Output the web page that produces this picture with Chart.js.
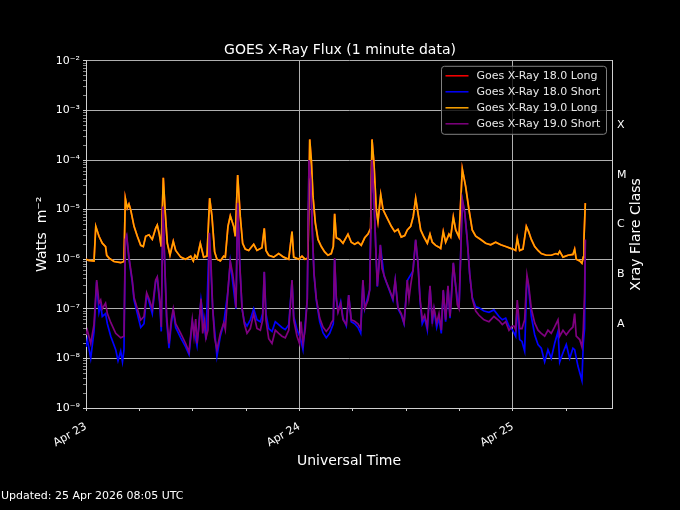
<!DOCTYPE html>
<html>
<head>
<meta charset="utf-8">
<title>GOES X-Ray Flux</title>
<script src="https://cdn.jsdelivr.net/npm/chart.js@4.4.1/dist/chart.umd.min.js"></script>
<style>
  html, body { margin: 0; padding: 0; background: #000; }
  #wrap { width: 680px; height: 510px; }
</style>
</head>
<body>
<div id="wrap"><canvas id="xrayChart" width="680" height="510"></canvas></div>
<script>
// time axis: hours since 23 Apr 2026 00:00 UTC
const long19Hours = [0, 0.3, 0.9, 1.1, 1.46, 1.83, 2.2, 2.33, 2.6, 3.15, 3.9, 4.27, 4.42, 4.64, 4.83, 5.02, 5.4, 5.77, 6.15, 6.44,
  6.71, 7.08, 7.45, 7.83, 8.01, 8.24, 8.46, 8.69, 8.91, 9.14, 9.44, 9.81, 10.08, 10.65, 11.2, 11.77, 12.06, 12.25, 12.48, 12.85,
  13.23, 13.6, 13.9, 14.16, 14.46, 14.72, 15.1, 15.48, 15.66, 15.96, 16.22, 16.6, 16.78, 17.05, 17.34, 17.61, 17.9, 18.29, 18.85, 19.22,
  19.78, 20.04, 20.23, 20.54, 21.1, 21.66, 22.22, 22.79, 23.16, 23.35, 23.91, 24.28, 24.62, 24.95, 25.15, 25.33, 25.52, 25.78, 26.08, 26.45,
  26.83, 27.2, 27.57, 27.8, 27.95, 28.14, 28.52, 28.89, 29.45, 29.82, 30.2, 30.57, 30.94, 31.33, 31.7, 32.0, 32.15, 32.37, 32.63, 32.82,
  33.13, 33.39, 33.76, 34.32, 34.7, 35.07, 35.44, 35.83, 36.12, 36.5, 36.79, 37.06, 37.32, 37.62, 37.99, 38.37, 38.67, 38.93, 39.31, 39.68,
  39.87, 40.16, 40.43, 40.8, 41.0, 41.29, 41.56, 41.93, 42.3, 42.68, 43.05, 43.42, 43.81, 44.37, 44.93, 45.49, 46.05, 46.62, 47.18, 47.74,
  48.0, 48.3, 48.48, 48.75, 49.12, 49.5, 49.76, 50.06, 50.44, 50.81, 51.18, 51.74, 52.3, 52.83, 53.06, 53.25, 53.62, 54.18, 54.74, 54.93,
  55.11, 55.5, 55.75, 55.9, 55.98, 56.13];
const long19Flux = [1.0e-6, 0.95e-6, 0.92e-6, 4.6e-6, 2.9e-6, 2.1e-6, 1.8e-6, 1.2e-6, 1.05e-6, 0.9e-6, 0.85e-6, 0.9e-6, 1.7e-5, 1.07e-5, 1.3e-5, 1.0e-5, 4.6e-6, 2.9e-6, 1.9e-6, 1.8e-6,
  2.9e-6, 3.1e-6, 2.5e-6, 4.2e-6, 4.9e-6, 3.2e-6, 1.8e-6, 4.4e-5, 8.5e-6, 2.1e-6, 1.2e-6, 2.3e-6, 1.5e-6, 1.1e-6, 1.0e-6, 1.15e-6, 0.92e-6, 1.2e-6, 1.05e-6, 2.1e-6,
  1.1e-6, 1.15e-6, 1.7e-5, 7.3e-6, 1.4e-6, 1.0e-6, 0.92e-6, 1.15e-6, 1.1e-6, 4.6e-6, 7.5e-6, 4.6e-6, 2.9e-6, 5.0e-5, 7.3e-6, 2.1e-6, 1.6e-6, 1.5e-6, 2.0e-6, 1.5e-6,
  1.7e-6, 4.2e-6, 1.5e-6, 1.2e-6, 1.1e-6, 1.3e-6, 1.1e-6, 1.0e-6, 3.6e-6, 1.1e-6, 1.0e-6, 1.15e-6, 1.0e-6, 1.05e-6, 2.6e-4, 1.0e-4, 1.8e-5, 5.4e-6, 2.5e-6, 1.8e-6,
  1.4e-6, 1.2e-6, 1.3e-6, 1.8e-6, 8.2e-6, 2.7e-6, 2.5e-6, 2.1e-6, 3.2e-6, 2.2e-6, 2.0e-6, 2.2e-6, 1.9e-6, 2.7e-6, 3.2e-6, 4.2e-6, 2.6e-4, 8.7e-5, 1.0e-5, 5.7e-6,
  2.0e-5, 1.0e-5, 7.3e-6, 4.6e-6, 3.6e-6, 4.0e-6, 2.8e-6, 3.0e-6, 3.9e-6, 4.6e-6, 7.3e-6, 1.7e-5, 8.5e-6, 3.9e-6, 2.8e-6, 2.1e-6, 3.2e-6, 2.2e-6, 1.9e-6, 1.75e-6,
  1.65e-6, 3.6e-6, 2.2e-6, 3.2e-6, 2.8e-6, 7.1e-6, 3.9e-6, 2.8e-6, 6.6e-5, 2.9e-5, 1.0e-5, 3.9e-6, 2.9e-6, 2.5e-6, 2.1e-6, 1.95e-6, 2.2e-6, 1.95e-6, 1.8e-6, 1.65e-6,
  1.6e-6, 1.5e-6, 2.65e-6, 1.5e-6, 1.6e-6, 4.6e-6, 3.6e-6, 2.5e-6, 1.8e-6, 1.5e-6, 1.3e-6, 1.2e-6, 1.2e-6, 1.3e-6, 1.25e-6, 1.45e-6, 1.1e-6, 1.2e-6, 1.25e-6, 1.6e-6,
  1.0e-6, 0.92e-6, 0.83e-6, 1.1e-6, 2.6e-6, 1.35e-5];

const short19Hours = [0, 0.15, 0.53, 0.9, 1.2, 1.46, 1.65, 1.83, 2.2, 2.4, 2.78, 3.34, 3.9, 4.27, 4.42, 4.57, 4.83, 5.2, 5.4, 5.77,
  6.15, 6.52, 6.82, 7.08, 7.45, 7.83, 8.01, 8.32, 8.46, 8.65, 8.85, 9.07, 9.33, 9.59, 9.81, 10.08, 10.65, 11.2, 11.58, 11.95,
  12.14, 12.33, 12.48, 12.67, 12.93, 13.12, 13.34, 13.49, 13.71, 13.86, 14.05, 14.24, 14.46, 14.72, 15.1, 15.48, 15.66, 15.96, 16.22, 16.49,
  16.72, 16.86, 17.05, 17.28, 17.54, 17.8, 18.1, 18.47, 18.85, 19.22, 19.6, 19.86, 20.04, 20.23, 20.54, 20.91, 21.28, 21.66, 22.03, 22.4,
  22.79, 23.16, 23.35, 23.72, 24.0, 24.17, 24.39, 24.65, 24.87, 25.07, 25.26, 25.44, 25.63, 25.89, 26.27, 26.64, 27.01, 27.39, 27.57, 27.8,
  27.95, 28.14, 28.33, 28.63, 28.89, 29.26, 29.53, 29.82, 30.2, 30.57, 30.88, 31.13, 31.33, 31.7, 31.89, 32.15, 32.37, 32.57, 32.75, 32.94,
  33.09, 33.28, 33.5, 33.76, 34.13, 34.5, 34.76, 35.07, 35.44, 35.75, 35.94, 36.12, 36.31, 36.5, 36.76, 37.06, 37.32, 37.55, 37.8, 38.07,
  38.37, 38.67, 38.93, 39.12, 39.42, 39.68, 39.94, 40.16, 40.43, 40.69, 40.92, 41.06, 41.29, 41.56, 41.74, 41.93, 42.12, 42.3, 42.57, 42.86,
  43.13, 43.42, 43.81, 44.18, 44.74, 45.3, 45.86, 46.42, 46.8, 47.18, 47.55, 47.92, 48.11, 48.3, 48.48, 48.75, 49.01, 49.31, 49.57, 49.76,
  50.06, 50.44, 50.81, 51.18, 51.56, 51.93, 52.3, 52.68, 53.06, 53.25, 53.62, 53.99, 54.37, 54.74, 54.93, 55.11, 55.5, 55.75, 55.9, 56.05,
  56.13];
const short19Flux = [3.0e-8, 3.7e-8, 2.0e-8, 4.8e-8, 3.8e-7, 1.3e-7, 1.5e-7, 1.0e-7, 1.3e-7, 8.0e-8, 5.3e-8, 3.2e-8, 2.6e-8, 2.8e-8, 2.5e-6, 3.0e-6, 1.1e-6, 3.8e-7, 1.7e-7, 1.0e-7,
  5.9e-8, 7.0e-8, 2.1e-7, 1.6e-7, 1.0e-7, 3.8e-7, 4.4e-7, 1.3e-7, 4.3e-8, 1.15e-5, 8.3e-7, 7.0e-8, 2.0e-8, 6.0e-8, 1.0e-7, 5.0e-8, 3.2e-8, 2.0e-8, 1.35e-8, 6.0e-8,
  2.8e-8, 6.2e-8, 2.0e-8, 4.0e-8, 1.6e-7, 3.2e-8, 6.0e-8, 2.6e-8, 3.7e-8, 3.4e-6, 8.3e-7, 1.05e-7, 2.6e-8, 1.5e-8, 3.2e-8, 5.2e-8, 3.8e-8, 2.4e-7, 9.0e-7, 5.0e-7,
  2.4e-7, 1.05e-7, 1.35e-5, 8.3e-7, 1.05e-7, 5.0e-8, 3.2e-8, 4.0e-8, 8.0e-8, 4.0e-8, 3.7e-8, 6.0e-8, 5.6e-7, 6.0e-8, 2.5e-8, 2.0e-8, 3.7e-8, 3.2e-8, 2.8e-8, 2.6e-8,
  3.7e-8, 3.8e-7, 6.0e-8, 2.8e-8, 2.0e-8, 5.5e-8, 2.0e-8, 4.0e-8, 1.6e-7, 1.0e-4, 4.0e-5, 3.9e-6, 5.2e-7, 1.6e-7, 6.5e-8, 4.3e-8, 3.5e-8, 4.3e-8, 5.2e-8, 6.0e-8,
  1.05e-6, 1.6e-7, 8.5e-8, 1.3e-7, 6.0e-8, 4.8e-8, 1.9e-7, 6.0e-8, 5.6e-8, 5.0e-8, 4.0e-8, 3.8e-7, 1.0e-7, 1.5e-7, 2.4e-7, 1.0e-4, 1.8e-5, 1.8e-6, 2.9e-7, 7.5e-7,
  1.95e-6, 6.5e-7, 4.8e-7, 3.5e-7, 2.4e-7, 1.6e-7, 3.8e-7, 1.05e-7, 8.0e-8, 5.2e-8, 1.3e-7, 3.8e-7, 1.6e-7, 3.0e-7, 6.0e-7, 2.5e-6, 8.3e-7, 1.6e-7, 6.0e-8, 7.5e-8,
  4.3e-8, 2.9e-7, 6.0e-8, 1.05e-7, 5.2e-8, 8.0e-8, 3.7e-8, 2.4e-7, 6.0e-8, 2.9e-7, 7.0e-8, 1.5e-7, 8.5e-7, 2.9e-7, 1.2e-7, 1.0e-7, 1.2e-6, 1.6e-5, 9.0e-6, 2.5e-6,
  5.2e-7, 1.6e-7, 9.0e-8, 7.4e-8, 6.0e-8, 5.5e-8, 7.0e-8, 5.8e-8, 4.8e-8, 5.5e-8, 3.7e-8, 4.5e-8, 4.5e-8, 3.8e-8, 1.5e-7, 4.0e-8, 4.0e-8, 6.0e-8, 4.8e-7, 3.0e-7,
  1.0e-7, 5.2e-8, 3.7e-8, 3.2e-8, 2.8e-8, 3.7e-8, 3.2e-8, 4.3e-8, 6.0e-8, 2.8e-8, 3.7e-8, 3.0e-8, 3.7e-8, 4.3e-8, 8.0e-8, 2.8e-8, 2.4e-8, 1.7e-8, 3.7e-8, 2.1e-7,
  2.5e-6];

const short18Hours = [0, 0.15, 0.53, 0.9, 1.2, 1.46, 1.65, 1.83, 2.2, 2.4, 2.78, 3.34, 3.6, 3.9, 4.1, 4.27, 4.42, 4.57, 4.83, 5.2,
  5.4, 5.77, 6.15, 6.52, 6.82, 7.08, 7.45, 7.83, 8.01, 8.32, 8.46, 8.65, 8.85, 9.07, 9.33, 9.59, 9.81, 10.08, 10.65, 11.2,
  11.58, 11.95, 12.48, 12.93, 13.49, 13.86, 14.24, 14.72, 15.1, 15.48, 15.96, 16.22, 16.86, 17.05, 17.28, 17.54, 17.8, 18.1, 18.47, 18.85,
  19.22, 19.6, 19.86, 20.04, 20.23, 20.54, 20.91, 21.28, 21.66, 22.03, 22.4, 22.79, 23.16, 23.35, 23.72, 24.09, 24.39, 24.87, 25.07, 25.26,
  25.44, 25.63, 25.89, 26.27, 26.64, 27.01, 27.39, 27.8, 27.95, 28.14, 28.33, 28.63, 28.89, 29.26, 29.53, 29.82, 30.2, 30.57, 30.88, 31.13,
  31.33, 31.89, 32.15, 32.37, 32.57, 32.75, 33.09, 33.5, 34.13, 34.5, 34.76, 35.07, 35.44, 35.75, 36.12, 36.76, 37.06, 37.32, 37.55, 37.8,
  38.07, 38.37, 38.67, 38.93, 39.12, 39.42, 39.68, 39.94, 40.16, 40.43, 40.69, 40.92, 41.29, 41.56, 41.93, 42.12, 42.3, 42.57, 42.86, 43.13,
  43.42, 43.81, 44.18, 44.74, 45.3, 45.86, 46.42, 46.8, 47.18, 47.55, 47.92, 48.3, 48.48, 48.75, 49.01, 49.31, 49.57, 49.76, 50.06, 50.44,
  50.81, 51.18, 51.56, 51.93, 52.3, 52.68, 53.06, 53.25, 53.62, 53.99, 54.37, 54.74, 54.93, 55.3, 55.75, 55.9, 56.05, 56.13];
const short18Flux = [1.7e-8, 2.4e-8, 1.0e-8, 3.5e-8, 3.5e-7, 8.5e-8, 1.2e-7, 7.0e-8, 8.0e-8, 5.0e-8, 2.8e-8, 1.5e-8, 9.0e-9, 1.4e-8, 8.5e-9, 1.5e-8, 2.4e-6, 2.9e-6, 1.0e-6, 3.5e-7,
  1.5e-7, 8.0e-8, 4.2e-8, 5.0e-8, 1.9e-7, 1.4e-7, 8.0e-8, 3.5e-7, 4.2e-7, 1.1e-7, 3.5e-8, 1.1e-5, 8.0e-7, 5.5e-8, 1.6e-8, 5.0e-8, 9.0e-8, 4.2e-8, 2.6e-8, 1.7e-8,
  1.2e-8, 5.5e-8, 1.8e-8, 1.5e-7, 2.4e-8, 3.3e-6, 1.0e-7, 1.1e-8, 2.8e-8, 5.0e-8, 2.3e-7, 8.8e-7, 1.0e-7, 1.3e-5, 8.0e-7, 1.0e-7, 5.5e-8, 4.5e-8, 6.0e-8, 1.0e-7,
  6.0e-8, 5.5e-8, 8.0e-8, 5.5e-7, 8.0e-8, 4.0e-8, 3.5e-8, 5.5e-8, 4.8e-8, 4.2e-8, 3.8e-8, 4.8e-8, 3.7e-7, 7.0e-8, 3.8e-8, 2.6e-8, 1.5e-8, 1.5e-7, 1.0e-4, 4.0e-5,
  3.9e-6, 5.0e-7, 1.5e-7, 5.5e-8, 3.3e-8, 2.6e-8, 3.2e-8, 5.0e-8, 1.0e-6, 1.6e-7, 9.0e-8, 1.4e-7, 6.5e-8, 4.5e-8, 1.9e-7, 5.5e-8, 5.0e-8, 4.2e-8, 3.2e-8, 3.7e-7,
  1.0e-7, 2.4e-7, 1.0e-4, 1.8e-5, 1.8e-6, 2.8e-7, 1.9e-6, 4.6e-7, 2.3e-7, 1.5e-7, 3.7e-7, 1.0e-7, 7.5e-8, 5.0e-8, 3.7e-7, 5.8e-7, 2.4e-6, 8.0e-7, 1.5e-7, 5.0e-8,
  6.5e-8, 3.7e-8, 2.8e-7, 5.0e-8, 9.5e-8, 4.2e-8, 6.5e-8, 3.2e-8, 2.3e-7, 5.5e-8, 2.8e-7, 6.5e-8, 8.3e-7, 2.8e-7, 1.0e-7, 1.2e-6, 1.6e-5, 8.8e-6, 2.4e-6, 5.0e-7,
  1.7e-7, 1.1e-7, 1.05e-7, 9.0e-8, 8.5e-8, 9.5e-8, 7.0e-8, 6.0e-8, 6.5e-8, 4.5e-8, 3.8e-8, 2.8e-8, 1.2e-7, 2.4e-8, 2.2e-8, 1.4e-8, 4.5e-7, 2.6e-7, 7.0e-8, 3.0e-8,
  1.9e-8, 1.6e-8, 8.5e-9, 1.5e-8, 1.0e-8, 2.0e-8, 3.5e-8, 8.5e-9, 1.3e-8, 1.9e-8, 1.0e-8, 1.6e-8, 1.5e-8, 7.0e-9, 3.6e-9, 2.0e-8, 4.0e-8, 2.4e-6];

const seriesNames = ['Goes X-Ray 18.0 Long', 'Goes X-Ray 18.0 Short', 'Goes X-Ray 19.0 Long', 'Goes X-Ray 19.0 Short'];
const dayTicks = [0, 24, 48];
const dayLabels = ['Apr 23', 'Apr 24', 'Apr 25'];
const decadeLabels = ['10⁻⁹', '10⁻⁸', '10⁻⁷', '10⁻⁶', '10⁻⁵', '10⁻⁴', '10⁻³', '10⁻²'];
const flareLevels = [5e-8, 5e-7, 5e-6, 5e-5, 5e-4];
const flareClasses = ['A', 'B', 'C', 'M', 'X'];

const FONT = "'DejaVu Sans', sans-serif";
const GRID = '#b0b0b0';
const SPINE = '#d0d0d0';

function toPoints(hours, flux) {
    return hours.map((h, i) => ({ x: h, y: flux[i] }));
}

function isDecade(v) {
    const l = Math.log10(v);
    return Math.abs(l - Math.round(l)) < 1e-6;
}

// legend, right-hand title and footer are drawn by hand
const decorPlugin = {
    id: 'decor',
    afterDraw(chart) {
        const ctx = chart.ctx;
        const area = chart.chartArea;
        ctx.save();

        // legend box, upper right of the plot
        const w = 165, h = 68;
        const bx = area.right - 5.5 - w, by = area.top + 5.5;
        ctx.beginPath();
        ctx.roundRect(bx, by, w, h, 3);
        ctx.fillStyle = 'rgba(0,0,0,0.8)';
        ctx.fill();
        ctx.strokeStyle = '#808080';
        ctx.lineWidth = 1;
        ctx.stroke();
        ctx.font = '11px ' + FONT;
        ctx.textBaseline = 'middle';
        ctx.textAlign = 'left';
        chart.data.datasets.forEach((ds, i) => {
            const y = by + 9.5 + i * 16;
            ctx.strokeStyle = ds.borderColor;
            ctx.lineWidth = 1.5;
            ctx.beginPath();
            ctx.moveTo(bx + 4, y);
            ctx.lineTo(bx + 27, y);
            ctx.stroke();
            ctx.fillStyle = '#e8e8e8';
            ctx.fillText(ds.label, bx + 35, y);
        });

        // right axis title, reads bottom to top
        ctx.translate(636, (area.top + area.bottom) / 2);
        ctx.rotate(-Math.PI / 2);
        ctx.font = '14px ' + FONT;
        ctx.fillStyle = '#ffffff';
        ctx.textAlign = 'center';
        ctx.fillText('Xray Flare Class', 0, 0);
        ctx.setTransform(1, 0, 0, 1, 0, 0);

        ctx.font = '11px ' + FONT;
        ctx.textAlign = 'left';
        ctx.fillStyle = '#ffffff';
        ctx.fillText('Updated: 25 Apr 2026 08:05 UTC', 1, 496);
        ctx.restore();
    }
};

const bgPlugin = {
    id: 'bg',
    beforeDraw(chart) {
        const ctx = chart.ctx;
        ctx.save();
        ctx.fillStyle = '#000';
        ctx.fillRect(0, 0, chart.width, chart.height);
        ctx.restore();
    }
};

document.addEventListener('DOMContentLoaded', () => {
    const ctx = document.getElementById('xrayChart').getContext('2d');

    new Chart(ctx, {
        type: 'line',
        data: {
            datasets: [
                { label: seriesNames[0], data: toPoints(long19Hours, long19Flux), borderColor: '#ff0000', order: 3 },
                { label: seriesNames[1], data: toPoints(short18Hours, short18Flux), borderColor: '#0000ff', order: 2 },
                { label: seriesNames[2], data: toPoints(long19Hours, long19Flux), borderColor: '#ffa500', order: 1 },
                { label: seriesNames[3], data: toPoints(short19Hours, short19Flux), borderColor: '#800080', order: 0 }
            ]
        },
        options: {
            responsive: false,
            animation: false,
            devicePixelRatio: 1,
            elements: {
                line: { borderWidth: 1.7, tension: 0 },
                point: { radius: 0, hoverRadius: 0 }
            },
            layout: { padding: 0 },
            plugins: {
                legend: { display: false },
                tooltip: { enabled: false },
                title: {
                    display: true,
                    text: 'GOES X-Ray Flux (1 minute data)',
                    color: '#ffffff',
                    font: { family: FONT, size: 14, weight: 'normal' },
                    padding: { top: 42, bottom: 2 }
                }
            },
            scales: {
                x: {
                    type: 'linear',
                    min: 0,
                    max: 59.13,
                    afterBuildTicks: (scale) => {
                        scale.ticks = [0, 6, 12, 18, 24, 30, 36, 42, 48, 54].map(v => ({ value: v }));
                    },
                    afterFit: (scale) => { scale.height = 102; },
                    ticks: {
                        autoSkip: false,
                        minRotation: 30,
                        maxRotation: 30,
                        padding: 9,
                        color: '#ffffff',
                        font: { family: FONT, size: 11 },
                        callback: (v) => {
                            const i = dayTicks.indexOf(v);
                            return i >= 0 ? dayLabels[i] : '';
                        }
                    },
                    grid: {
                        color: (c) => (c.tick && c.tick.value % 24 === 0 && c.tick.value > 0) ? GRID : 'rgba(0,0,0,0)',
                        tickColor: SPINE,
                        tickLength: 3
                    },
                    border: { color: SPINE },
                    title: {
                        display: true,
                        text: 'Universal Time',
                        color: '#ffffff',
                        font: { family: FONT, size: 14 },
                        padding: { top: 0, bottom: 40 }
                    }
                },
                y: {
                    type: 'logarithmic',
                    position: 'left',
                    min: 1e-9,
                    max: 1e-2,
                    afterBuildTicks: (scale) => {
                        const t = [];
                        for (let e = -9; e <= -2; e++) {
                            for (let m = 1; m <= 9; m++) {
                                if (e === -2 && m > 1) break;
                                t.push({ value: m * Math.pow(10, e), major: m === 1 });
                            }
                        }
                        scale.ticks = t;
                    },
                    afterFit: (scale) => { scale.width = 86; },
                    ticks: {
                        autoSkip: false,
                        padding: 3,
                        color: '#ffffff',
                        font: { family: FONT, size: 11 },
                        callback: (v) => isDecade(v) ? decadeLabels[Math.round(Math.log10(v)) + 9] : ''
                    },
                    grid: {
                        color: (c) => (c.tick && isDecade(c.tick.value)) ? GRID : 'rgba(0,0,0,0)',
                        tickColor: (c) => (c.tick && isDecade(c.tick.value)) ? SPINE : '#888888',
                        tickLength: 3
                    },
                    border: { color: SPINE },
                    title: {
                        display: true,
                        text: 'Watts  m⁻²',
                        color: '#ffffff',
                        font: { family: FONT, size: 14 },
                        padding: { top: 34, bottom: 0 }
                    }
                },
                y2: {
                    type: 'logarithmic',
                    position: 'right',
                    min: 1e-9,
                    max: 1e-2,
                    afterBuildTicks: (scale) => {
                        scale.ticks = flareLevels.map(v => ({ value: v }));
                    },
                    afterFit: (scale) => { scale.width = 68; },
                    ticks: {
                        autoSkip: false,
                        padding: 5,
                        color: '#ffffff',
                        font: { family: FONT, size: 11 },
                        callback: (v, i) => flareClasses[i]
                    },
                    grid: { drawOnChartArea: false, drawTicks: false },
                    border: { color: SPINE }
                }
            }
        },
        plugins: [bgPlugin, decorPlugin]
    });
});
</script>
</body>
</html>
